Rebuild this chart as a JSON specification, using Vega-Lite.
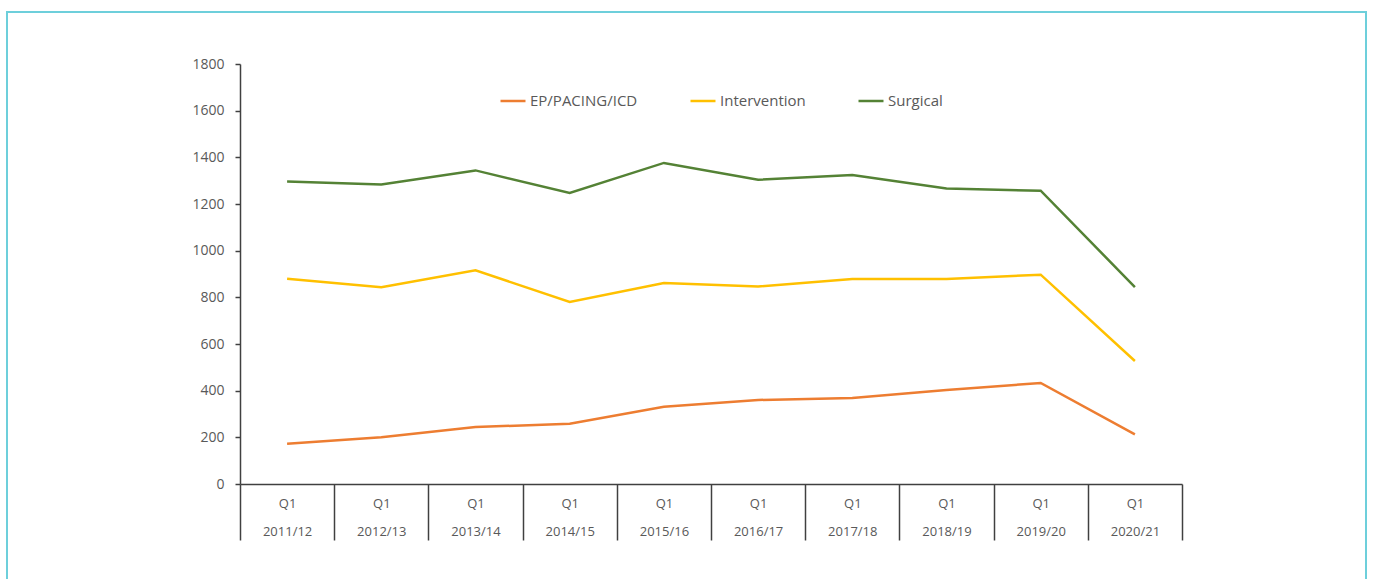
{
  "$schema": "https://vega.github.io/schema/vega-lite/v6.json",
  "width": 1359,
  "height": 600,
  "autosize": {"type": "none"},
  "padding": {"left": 7, "top": 12, "right": 7, "bottom": 0},
  "background": "white",
  "config": {
    "view": {"stroke": "#6dcfdb", "strokeWidth": 2},
    "font": "Open Sans",
    "axis": {"labelFont": "Open Sans", "labelColor": "#595959", "labelFontSize": 14, "domainColor": "#404040", "tickColor": "#404040", "domainWidth": 1.5, "tickWidth": 1.5, "grid": false, "title": null}
  },
  "data": {"values": [
    {"period": "2011/12", "series": "EP/PACING/ICD", "value": 173},
    {"period": "2012/13", "series": "EP/PACING/ICD", "value": 200},
    {"period": "2013/14", "series": "EP/PACING/ICD", "value": 244},
    {"period": "2014/15", "series": "EP/PACING/ICD", "value": 258},
    {"period": "2015/16", "series": "EP/PACING/ICD", "value": 331},
    {"period": "2016/17", "series": "EP/PACING/ICD", "value": 360},
    {"period": "2017/18", "series": "EP/PACING/ICD", "value": 369},
    {"period": "2018/19", "series": "EP/PACING/ICD", "value": 403},
    {"period": "2019/20", "series": "EP/PACING/ICD", "value": 433},
    {"period": "2020/21", "series": "EP/PACING/ICD", "value": 213},
    {"period": "2011/12", "series": "Intervention", "value": 880},
    {"period": "2012/13", "series": "Intervention", "value": 843},
    {"period": "2013/14", "series": "Intervention", "value": 916},
    {"period": "2014/15", "series": "Intervention", "value": 780},
    {"period": "2015/16", "series": "Intervention", "value": 861},
    {"period": "2016/17", "series": "Intervention", "value": 846},
    {"period": "2017/18", "series": "Intervention", "value": 879},
    {"period": "2018/19", "series": "Intervention", "value": 879},
    {"period": "2019/20", "series": "Intervention", "value": 897},
    {"period": "2020/21", "series": "Intervention", "value": 527},
    {"period": "2011/12", "series": "Surgical", "value": 1296},
    {"period": "2012/13", "series": "Surgical", "value": 1284},
    {"period": "2013/14", "series": "Surgical", "value": 1344},
    {"period": "2014/15", "series": "Surgical", "value": 1247},
    {"period": "2015/16", "series": "Surgical", "value": 1376},
    {"period": "2016/17", "series": "Surgical", "value": 1304},
    {"period": "2017/18", "series": "Surgical", "value": 1324},
    {"period": "2018/19", "series": "Surgical", "value": 1266},
    {"period": "2019/20", "series": "Surgical", "value": 1257},
    {"period": "2020/21", "series": "Surgical", "value": 844}
  ]},
  "mark": {"type": "line", "strokeWidth": 2.5},
  "encoding": {
    "x": {
      "field": "period", "type": "nominal", "sort": null,
      "scale": {"type": "band", "paddingInner": 0, "paddingOuter": 0, "range": [233, 1175]},
      "axis": {"offset": -128, "tickBand": "extent", "tickSize": 56, "labelAngle": 0, "labelPadding": -43, "labelLineHeight": 28, "labelFontSize": 13, "labelExpr": "isValid(datum.value) ? ['Q1', datum.value] : ''", "labelBaseline": "top"}
    },
    "y": {
      "field": "value", "type": "quantitative",
      "scale": {"domain": [0, 1800], "nice": false, "range": [472, 52]},
      "axis": {"offset": -233, "values": [0, 200, 400, 600, 800, 1000, 1200, 1400, 1600, 1800], "format": "d", "tickSize": 5, "labelPadding": 11}
    },
    "color": {
      "field": "series", "type": "nominal",
      "scale": {"domain": ["EP/PACING/ICD", "Intervention", "Surgical"], "range": ["#ED7D31", "#FFC000", "#548235"]},
      "legend": {"orient": "none", "legendX": 492, "legendY": 75, "direction": "horizontal", "title": null, "symbolType": "stroke", "symbolStrokeWidth": 2.5, "symbolSize": 625, "labelFont": "Open Sans", "labelFontSize": 15, "labelColor": "#595959", "labelOffset": 3, "columnPadding": 47}
    }
  }
}
